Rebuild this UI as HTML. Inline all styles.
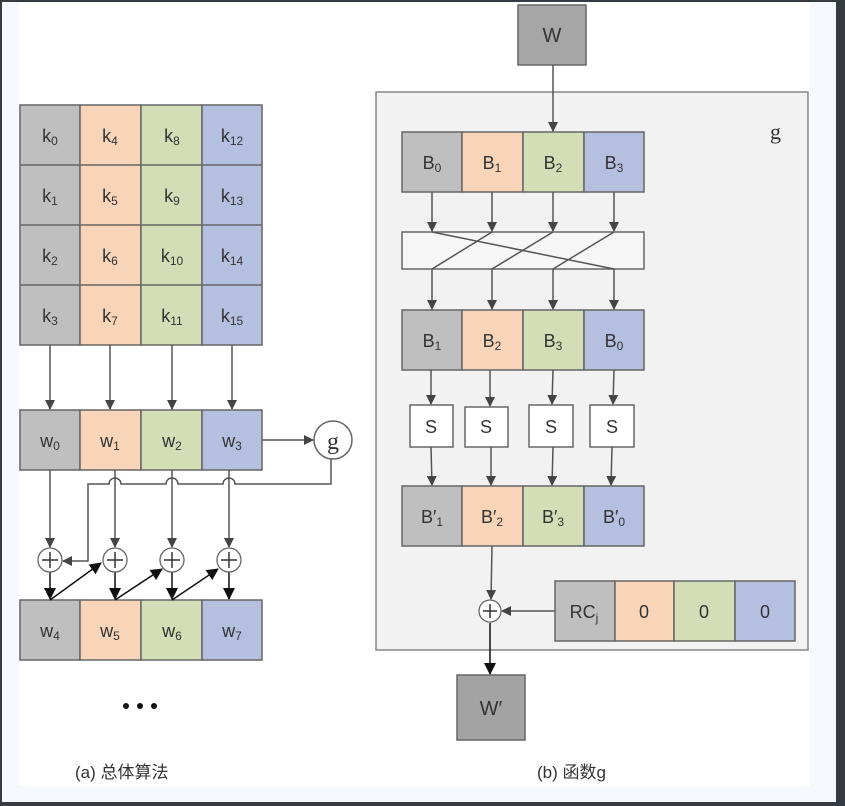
<!DOCTYPE html>
<html><head><meta charset="utf-8"><style>
html,body{margin:0;padding:0;background:#353b40;}
svg{display:block;}
text{font-family:"Liberation Sans","Noto Sans CJK SC",sans-serif;fill:#333;}
</style></head><body>
<svg width="845" height="806" viewBox="0 0 845 806" xmlns="http://www.w3.org/2000/svg">
<defs>
<marker id="a" markerWidth="10" markerHeight="10" refX="9" refY="5" orient="auto" markerUnits="userSpaceOnUse"><path d="M0,0 L10,5 L0,10 z" fill="#444"/></marker>
<marker id="b" markerWidth="12" markerHeight="12" refX="11" refY="6" orient="auto" markerUnits="userSpaceOnUse"><path d="M0,0 L12,6 L0,12 z" fill="#111"/></marker>
</defs>
<rect x="2" y="2" width="834" height="800" fill="#f5f9fe"/>
<rect x="19" y="2" width="791" height="784" fill="#fff"/>

<g stroke="#666" stroke-width="1.5">
<!-- left grid -->
<g>
<rect x="20" y="105" width="60" height="240" fill="#bfbfbf"/>
<rect x="80" y="105" width="61" height="240" fill="#f8d5b8"/>
<rect x="141" y="105" width="61" height="240" fill="#d3ddb6"/>
<rect x="202" y="105" width="60" height="240" fill="#b5bfe0"/>
<line x1="20" y1="165" x2="262" y2="165"/><line x1="20" y1="225" x2="262" y2="225"/><line x1="20" y1="285" x2="262" y2="285"/>
</g>
<rect x="20" y="410" width="60" height="60" fill="#bfbfbf"/>
<rect x="80" y="410" width="61" height="60" fill="#f8d5b8"/>
<rect x="141" y="410" width="61" height="60" fill="#d3ddb6"/>
<rect x="202" y="410" width="60" height="60" fill="#b5bfe0"/>
<rect x="20" y="600" width="60" height="60" fill="#bfbfbf"/>
<rect x="80" y="600" width="61" height="60" fill="#f8d5b8"/>
<rect x="141" y="600" width="61" height="60" fill="#d3ddb6"/>
<rect x="202" y="600" width="60" height="60" fill="#b5bfe0"/>
</g>
<g stroke="#555" stroke-width="1.5" fill="none" marker-end="url(#a)">
<line x1="50" y1="345" x2="50" y2="409"/><line x1="110" y1="345" x2="110" y2="409"/>
<line x1="172" y1="345" x2="172" y2="409"/><line x1="232" y1="345" x2="232" y2="409"/>
<line x1="262" y1="440" x2="313" y2="440"/>
<line x1="50" y1="470" x2="50" y2="547"/><line x1="115" y1="470" x2="115" y2="547"/>
<line x1="172" y1="470" x2="172" y2="547"/><line x1="229" y1="470" x2="229" y2="547"/>
<path d="M331,459 V484 H235 a5,5 0 0 0 -12,0 H178 a5,5 0 0 0 -12,0 H121 a5,5 0 0 0 -12,0 H88 V561 H63"/>
</g>
<circle cx="333" cy="440" r="19" fill="#fff" stroke="#666" stroke-width="1.5"/>
<text x="333" y="449" text-anchor="middle" font-family="Liberation Serif" style="font-family:'Liberation Serif',serif;font-size:24px">g</text>
<g stroke="#111" stroke-width="1.5" marker-end="url(#b)">
<line x1="50" y1="572" x2="50" y2="599"/><line x1="115" y1="572" x2="115" y2="599"/>
<line x1="172" y1="572" x2="172" y2="599"/><line x1="229" y1="572" x2="229" y2="599"/>
<line x1="50" y1="600" x2="101" y2="563"/><line x1="115" y1="600" x2="162" y2="569"/><line x1="172" y1="600" x2="218" y2="569"/>
</g>
<g fill="#fff" stroke="#666" stroke-width="1.3">
<circle cx="50" cy="560" r="12"/><circle cx="115" cy="560" r="12"/><circle cx="172" cy="560" r="12"/><circle cx="229" cy="560" r="12"/>
</g>
<g stroke="#333" stroke-width="1.5">
<path d="M50,552v16M42,560h16M115,552v16M107,560h16M172,552v16M164,560h16M229,552v16M221,560h16"/>
</g>
<g font-size="18" text-anchor="middle">
<text x="50" y="142">k<tspan font-size="12" dy="3">0</tspan></text>
<text x="110" y="142">k<tspan font-size="12" dy="3">4</tspan></text>
<text x="172" y="142">k<tspan font-size="12" dy="3">8</tspan></text>
<text x="232" y="142">k<tspan font-size="12" dy="3">12</tspan></text>
<text x="50" y="202">k<tspan font-size="12" dy="3">1</tspan></text>
<text x="110" y="202">k<tspan font-size="12" dy="3">5</tspan></text>
<text x="172" y="202">k<tspan font-size="12" dy="3">9</tspan></text>
<text x="232" y="202">k<tspan font-size="12" dy="3">13</tspan></text>
<text x="50" y="262">k<tspan font-size="12" dy="3">2</tspan></text>
<text x="110" y="262">k<tspan font-size="12" dy="3">6</tspan></text>
<text x="172" y="262">k<tspan font-size="12" dy="3">10</tspan></text>
<text x="232" y="262">k<tspan font-size="12" dy="3">14</tspan></text>
<text x="50" y="322">k<tspan font-size="12" dy="3">3</tspan></text>
<text x="110" y="322">k<tspan font-size="12" dy="3">7</tspan></text>
<text x="172" y="322">k<tspan font-size="12" dy="3">11</tspan></text>
<text x="232" y="322">k<tspan font-size="12" dy="3">15</tspan></text>
<text x="50" y="447">w<tspan font-size="12" dy="3">0</tspan></text>
<text x="110" y="447">w<tspan font-size="12" dy="3">1</tspan></text>
<text x="172" y="447">w<tspan font-size="12" dy="3">2</tspan></text>
<text x="232" y="447">w<tspan font-size="12" dy="3">3</tspan></text>
<text x="50" y="637">w<tspan font-size="12" dy="3">4</tspan></text>
<text x="110" y="637">w<tspan font-size="12" dy="3">5</tspan></text>
<text x="172" y="637">w<tspan font-size="12" dy="3">6</tspan></text>
<text x="232" y="637">w<tspan font-size="12" dy="3">7</tspan></text>
</g>
<g fill="#111"><circle cx="126" cy="706" r="3"/><circle cx="140" cy="706" r="3"/><circle cx="154" cy="706" r="3"/></g>
<text x="75" y="778" font-size="17">(a) 总体算法</text>

<!-- right -->
<rect x="376" y="92" width="432" height="558" fill="#f2f2f2" stroke="#888" stroke-width="1.5"/>
<text x="770" y="139" font-size="22" style="font-family:'Liberation Serif',serif">g</text>
<g stroke="#666" stroke-width="1.5">
<rect x="518" y="5" width="68" height="60" fill="#a6a6a6"/>
<rect x="457" y="675" width="68" height="65" fill="#a3a3a3"/>
<rect x="402" y="132" width="60" height="60" fill="#bfbfbf"/><rect x="462" y="132" width="61" height="60" fill="#f8d5b8"/><rect x="523" y="132" width="61" height="60" fill="#d3ddb6"/><rect x="584" y="132" width="60" height="60" fill="#b5bfe0"/>
<rect x="402" y="232" width="242" height="37" fill="#f6f6f6"/>
<rect x="402" y="310" width="60" height="60" fill="#bfbfbf"/><rect x="462" y="310" width="61" height="60" fill="#f8d5b8"/><rect x="523" y="310" width="61" height="60" fill="#d3ddb6"/><rect x="584" y="310" width="60" height="60" fill="#b5bfe0"/>
<rect x="410" y="405" width="43" height="42" fill="#fff"/><rect x="465" y="407" width="43" height="40" fill="#fff"/><rect x="529" y="405" width="44" height="42" fill="#fff"/><rect x="590" y="405" width="44" height="42" fill="#fff"/>
<rect x="402" y="486" width="60" height="60" fill="#bfbfbf"/><rect x="462" y="486" width="61" height="60" fill="#f8d5b8"/><rect x="523" y="486" width="61" height="60" fill="#d3ddb6"/><rect x="584" y="486" width="60" height="60" fill="#b5bfe0"/>
<rect x="555" y="581" width="60" height="60" fill="#bfbfbf"/><rect x="615" y="581" width="59" height="60" fill="#f8d5b8"/><rect x="674" y="581" width="61" height="60" fill="#d3ddb6"/><rect x="735" y="581" width="60" height="60" fill="#b5bfe0"/>
</g>
<g stroke="#555" stroke-width="1.5" fill="none">
<line x1="432" y1="232" x2="614" y2="269"/><line x1="492" y1="232" x2="432" y2="269"/>
<line x1="553" y1="232" x2="492" y2="269"/><line x1="614" y1="232" x2="553" y2="269"/>
</g>
<g stroke="#555" stroke-width="1.5" marker-end="url(#a)">
<line x1="553" y1="65" x2="553" y2="131"/>
<line x1="432" y1="192" x2="432" y2="231"/><line x1="492" y1="192" x2="492" y2="231"/><line x1="553" y1="192" x2="553" y2="231"/><line x1="614" y1="192" x2="614" y2="231"/>
<line x1="432" y1="269" x2="432" y2="309"/><line x1="492" y1="269" x2="492" y2="309"/><line x1="553" y1="269" x2="553" y2="309"/><line x1="614" y1="269" x2="614" y2="309"/>
<line x1="431" y1="370" x2="431" y2="404"/><line x1="490" y1="370" x2="490" y2="406"/><line x1="553" y1="370" x2="552" y2="404"/><line x1="614" y1="370" x2="613" y2="404"/>
<line x1="431" y1="447" x2="432" y2="485"/><line x1="491" y1="447" x2="491" y2="485"/><line x1="553" y1="447" x2="552" y2="485"/><line x1="612" y1="447" x2="611" y2="485"/>
<line x1="492" y1="546" x2="491" y2="599"/>
<line x1="555" y1="611" x2="502" y2="611"/>
</g>
<line x1="490" y1="623" x2="490" y2="674" stroke="#111" stroke-width="1.5" marker-end="url(#b)"/>
<circle cx="490" cy="611" r="11" fill="#fff" stroke="#666" stroke-width="1.3"/>
<path d="M490,604v14M483,611h14" stroke="#333" stroke-width="1.5"/>
<g font-size="18" text-anchor="middle">
<text x="552" y="42" font-size="20">W</text>
<text x="491" y="715" font-size="20">W′</text>
<text x="432" y="169">B<tspan font-size="12" dy="3">0</tspan></text>
<text x="492" y="169">B<tspan font-size="12" dy="3">1</tspan></text>
<text x="553" y="169">B<tspan font-size="12" dy="3">2</tspan></text>
<text x="614" y="169">B<tspan font-size="12" dy="3">3</tspan></text>
<text x="432" y="347">B<tspan font-size="12" dy="3">1</tspan></text>
<text x="492" y="347">B<tspan font-size="12" dy="3">2</tspan></text>
<text x="553" y="347">B<tspan font-size="12" dy="3">3</tspan></text>
<text x="614" y="347">B<tspan font-size="12" dy="3">0</tspan></text>
<text x="431" y="433">S</text><text x="486" y="433">S</text><text x="551" y="433">S</text><text x="612" y="433">S</text>
<text x="432" y="523">B′<tspan font-size="12" dy="3">1</tspan></text>
<text x="492" y="523">B′<tspan font-size="12" dy="3">2</tspan></text>
<text x="553" y="523">B′<tspan font-size="12" dy="3">3</tspan></text>
<text x="614" y="523">B′<tspan font-size="12" dy="3">0</tspan></text>
<text x="584" y="618">RC<tspan font-size="12" dy="4">j</tspan></text>
<text x="644" y="618">0</text><text x="704" y="618">0</text><text x="765" y="618">0</text>
</g>
<text x="537" y="778" font-size="17">(b) 函数g</text>
</svg>
</body></html>
